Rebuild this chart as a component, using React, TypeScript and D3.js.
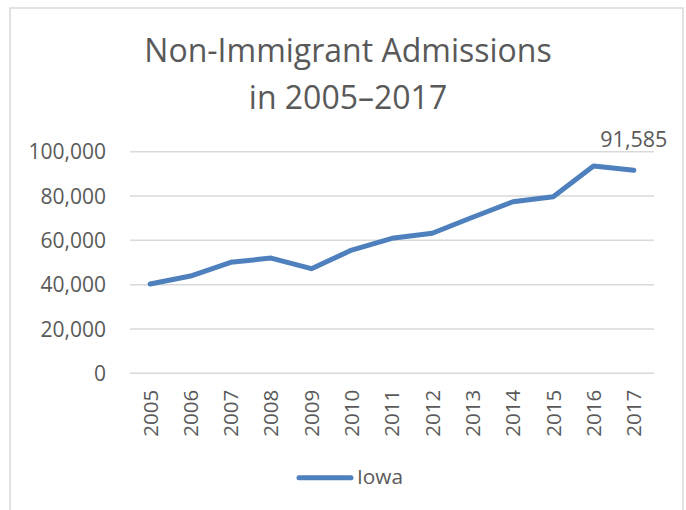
import React from "react";
import * as d3 from "d3";

const years = ["2005","2006","2007","2008","2009","2010","2011","2012","2013","2014","2015","2016","2017"];
const iowa = [40300, 43900, 50100, 52000, 47200, 55600, 60900, 63200, 70400, 77400, 79700, 93500, 91585];
const yTicks = [0, 20000, 40000, 60000, 80000, 100000];
const titleLines = ["Non-Immigrant Admissions", "in 2005\u20132017"];
const seriesName = "Iowa";

const W = 686, H = 510;
const plot = { left: 130, right: 654, top: 151.7, bottom: 373.3 };
const FONT = "'Open Sans', Calibri, sans-serif";
const TEXT = "#595959";
const BLUE = "#4E80BD";

export default function App() {
  const x = d3.scaleBand<string>().domain(years).range([plot.left, plot.right]);
  const y = d3.scaleLinear().domain([0, 100000]).range([plot.bottom, plot.top]);
  const cx = (d: string) => (x(d) as number) + x.bandwidth() / 2;
  const line = d3.line<number>().x((_, i) => cx(years[i])).y((d) => y(d));
  const fmt = d3.format(",");
  const lastI = years.length - 1;

  return (
    <svg width={W} height={H} style={{ position: "absolute", left: 0, top: 0, background: "#fff" }} fontFamily={FONT}>
      <rect x={10} y={8} width={673} height={520} fill="#fff" stroke="#D9D9D9" strokeWidth={1.5} />
      {titleLines.map((t, i) => (
        <text key={t} x={348} y={62 + i * 47} textAnchor="middle" fontSize={32} fill={TEXT}>{t}</text>
      ))}
      {yTicks.map((t) => (
        <g key={t}>
          <line x1={plot.left} x2={plot.right} y1={y(t)} y2={y(t)} stroke="#D9D9D9" strokeWidth={1.5} />
          <text x={106} y={y(t)} dy="0.36em" textAnchor="end" fontSize={21} fill={TEXT}>{fmt(t)}</text>
        </g>
      ))}
      {years.map((yr) => (
        <text key={yr} transform={`translate(${cx(yr)},${plot.bottom + 16.5}) rotate(-90)`} textAnchor="end" dy="0.36em" fontSize={20.5} fill={TEXT}>{yr}</text>
      ))}
      <path d={line(iowa) || ""} fill="none" stroke={BLUE} strokeWidth={5} strokeLinejoin="round" strokeLinecap="round" />
      <text x={cx(years[lastI])} y={146.5} textAnchor="middle" fontSize={21.5} fill={TEXT}>{fmt(iowa[lastI])}</text>
      <line x1={299} x2={351} y1={477.7} y2={477.7} stroke={BLUE} strokeWidth={5} strokeLinecap="round" />
      <text x={357} y={484} fontSize={20.8} fill={TEXT}>{seriesName}</text>
    </svg>
  );
}
